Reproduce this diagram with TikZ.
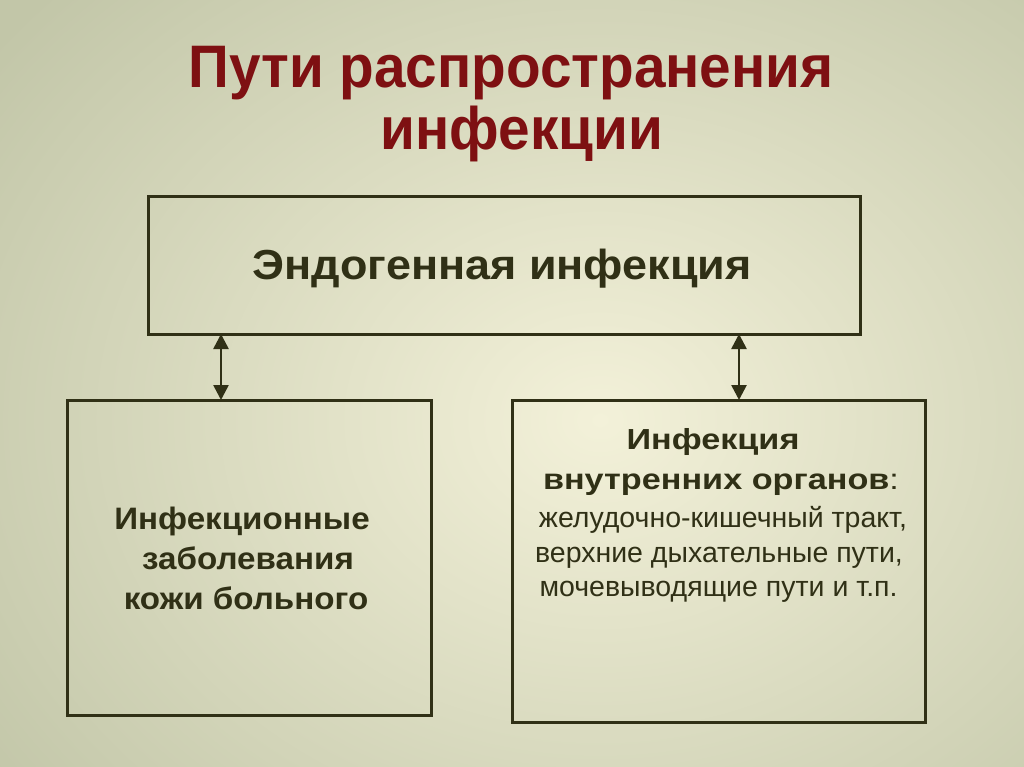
\documentclass[tikz,border=0pt]{standalone}
\usepackage{fontspec}
\setmainfont{Liberation Sans}
\usetikzlibrary{arrows.meta,positioning}
\definecolor{bgin}{HTML}{F3F1D9}
\definecolor{bgout}{HTML}{C2C6A8}
\definecolor{titlered}{HTML}{7E1012}
\definecolor{ink}{HTML}{303016}
\begin{document}
\begin{tikzpicture}[x=1pt,y=-1pt,
  box/.style={draw=ink,line width=3pt},
  txt/.style={text=ink,inner sep=0pt,anchor=base},
  ttl/.style={txt,text=titlered,font=\fontsize{60}{62}\selectfont\bfseries,xscale=0.945},
  endo/.style={txt,font=\fontsize{42}{46}\selectfont\bfseries,xscale=1.07},
  lbold/.style={txt,font=\fontsize{31}{40}\selectfont\bfseries,xscale=1.07},
  rbold/.style={txt,font=\fontsize{29}{35}\selectfont\bfseries,xscale=1.18},
  rnorm/.style={txt,font=\fontsize{28.5}{35}\selectfont},
  link/.style={draw=ink,line width=2.6pt,{Triangle[width=15pt,length=15pt]}-{Triangle[width=15pt,length=15pt]}}]
\useasboundingbox (0,0) rectangle (1024,767);
\begin{scope}
\clip (0,0) rectangle (1024,767);
\shade[inner color=bgin,outer color=bgout] (600-760,420-620) rectangle (600+760,420+620);
\end{scope}
% title
\node[ttl] (title1) at (511,88) {Пути распространения};
\node[ttl] (title2) at (522,150) {инфекции};
% top box
\draw[box] (148,197) rectangle (860,334);
\coordinate (topL) at (221,334);
\coordinate (topR) at (739,334);
\node[endo] (endo) at (502,279) {Эндогенная инфекция};
% left box
\draw[box] (67,400) rectangle (431,715);
\coordinate (leftT) at (221,400);
\node[lbold] (skin1) at (242,529) {Инфекционные};
\node[lbold] (skin2) at (248,569) {заболевания};
\node[lbold] (skin3) at (246,609) {кожи больного};
% right box
\draw[box] (512,400) rectangle (925,722);
\coordinate (rightT) at (739,400);
\node[rbold] (org1) at (713,449) {Инфекция};
\node[rbold] (org2) at (721,489) {внутренних органов{\mdseries:}};
\node[rnorm] (org3) at (723,527) {желудочно-кишечный тракт,};
\node[rnorm] (org4) at (719,562) {верхние дыхательные пути,};
\node[rnorm] (org5) at (718.5,596) {мочевыводящие пути и т.п.};
% arrows
\draw[link] (topL) -- (leftT);
\draw[link] (topR) -- (rightT);
\end{tikzpicture}
\end{document}
